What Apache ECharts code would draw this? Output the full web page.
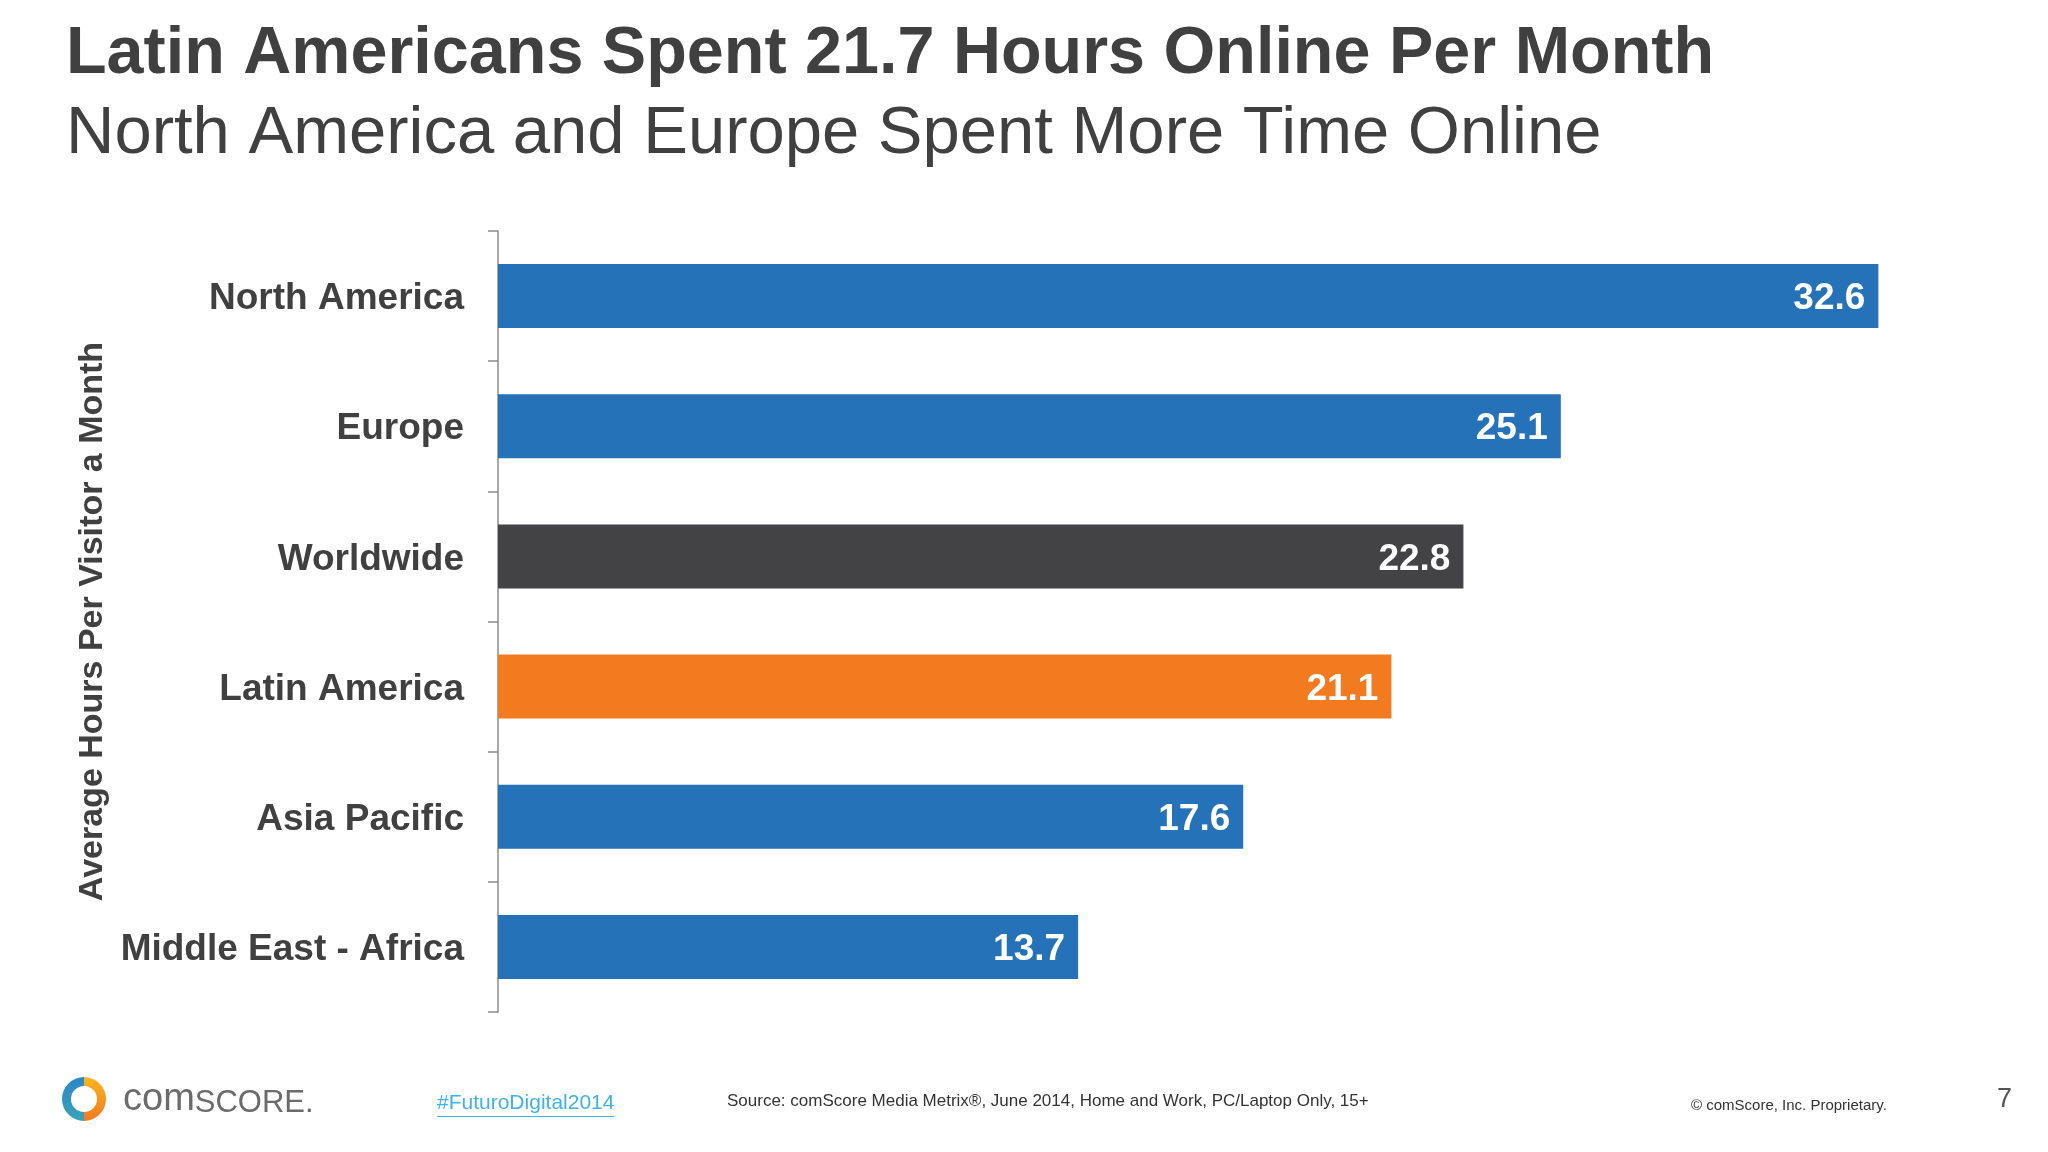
<!DOCTYPE html>
<html>
<head>
<meta charset="utf-8">
<script src="https://cdn.jsdelivr.net/npm/echarts@6/dist/echarts.min.js"></script>
<style>
html,body{margin:0;padding:0;background:#fff;}
#chart{width:2048px;height:1152px;}
</style>
</head>
<body>
<div id="chart"></div>
<script>
// ---- data ----
const titleText = 'Latin Americans Spent 21.7 Hours Online Per Month';
const subtitleText = 'North America and Europe Spent More Time Online';
const categories = ['North America', 'Europe', 'Worldwide', 'Latin America', 'Asia Pacific', 'Middle East - Africa'];
const hours = [32.6, 25.1, 22.8, 21.1, 17.6, 13.7];
const axisName = 'Average Hours Per Visitor a Month';
const hashtag = '#FuturoDigital2014';
const sourceText = 'Source: comScore Media Metrix®, June 2014, Home and Work, PC/Laptop Only, 15+';
const copyrightText = '© comScore, Inc. Proprietary.';
const pageNumber = '7';

// ---- styles ----
const FONT = '"Liberation Sans", Arial, Helvetica, sans-serif';
const TEXT = '#404040';
const BLUE = '#2572B9';
const DARK = '#434345';
const ORANGE = '#F27A1F';
const colorFor = { 'Worldwide': DARK, 'Latin America': ORANGE };

const chart = echarts.init(document.getElementById('chart'), null, { renderer: 'canvas' });

chart.setOption({
  backgroundColor: '#ffffff',
  animation: false,
  title: [
    { text: titleText, left: 61, top: 16,
      textStyle: { fontFamily: FONT, fontSize: 66.5, fontWeight: 'bold', color: TEXT } },
    { text: subtitleText, left: 61, top: 96,
      textStyle: { fontFamily: FONT, fontSize: 67, fontWeight: 'normal', color: TEXT } }
  ],
  grid: { left: 498, right: 68, top: 231, bottom: 140, containLabel: false },
  xAxis: { type: 'value', min: 0, max: 35, show: false, splitLine: { show: false } },
  yAxis: {
    type: 'category',
    data: categories,
    inverse: true,
    name: axisName,
    nameLocation: 'middle',
    nameGap: 386,
    nameRotate: 90,
    nameTextStyle: { fontFamily: FONT, fontSize: 34, fontWeight: 'bold', color: TEXT },
    axisLine: { show: true, lineStyle: { color: '#8c8c8c', width: 1.5 } },
    axisTick: { show: true, length: 10, inside: false, lineStyle: { color: '#8c8c8c', width: 1.5 } },
    axisLabel: {
      margin: 34,
      formatter: v => '{c|' + v + '}',
      rich: { c: { fontFamily: FONT, fontSize: 37, fontWeight: 'bold', color: TEXT, padding: [6, 0, 0, 0] } }
    },
    splitLine: { show: false }
  },
  series: [{
    type: 'bar',
    data: hours.map((v, i) => ({ value: v, itemStyle: { color: colorFor[categories[i]] || BLUE } })),
    barWidth: 64,
    label: {
      show: true, position: 'insideRight', distance: 13, offset: [0, 3],
      fontFamily: FONT, fontSize: 37, fontWeight: 'bold', color: '#ffffff',
      formatter: p => p.value.toFixed(1)
    }
  }],
  graphic: [
    // comScore logo icon
    { type: 'sector', shape: { cx: 84, cy: 1099, r: 22, r0: 13, startAngle: Math.PI * 0.5, endAngle: Math.PI * 1.5 },
      style: { fill: new echarts.graphic.LinearGradient(0, 0, 0, 1, [{ offset: 0, color: '#2E86C6' }, { offset: 1, color: '#38A3B8' }]) } },
    { type: 'sector', shape: { cx: 84, cy: 1099, r: 22, r0: 13, startAngle: -Math.PI * 0.5, endAngle: Math.PI * 0.5 },
      style: { fill: new echarts.graphic.LinearGradient(0, 0, 0, 1, [{ offset: 0, color: '#FBB51F' }, { offset: 1, color: '#F07A22' }]) } },
    { type: 'text', left: 123, top: 1081,
      style: {
        text: '{a|com}{b|SCORE.}',
        rich: {
          a: { fontFamily: FONT, fontSize: 38, fill: '#6b6b6b', color: '#6b6b6b', verticalAlign: 'bottom' },
          b: { fontFamily: FONT, fontSize: 31, fill: '#6b6b6b', color: '#6b6b6b', verticalAlign: 'bottom' }
        }
      } },
    { type: 'text', left: 437, top: 1093,
      style: { text: hashtag, fontFamily: FONT, fontSize: 21, fill: '#3FB2E6' } },
    { type: 'rect', shape: { x: 437, y: 1116, width: 177, height: 1 }, style: { fill: '#3FB2E6' } },
    { type: 'text', left: 727, top: 1093,
      style: { text: sourceText, fontFamily: FONT, fontSize: 17, fill: '#333333' } },
    { type: 'text', left: 1691, top: 1098,
      style: { text: copyrightText, fontFamily: FONT, fontSize: 15, fill: '#333333' } },
    { type: 'text', left: 1997, top: 1086,
      style: { text: pageNumber, fontFamily: FONT, fontSize: 27, fill: '#555555' } }
  ]
});
</script>
</body>
</html>
